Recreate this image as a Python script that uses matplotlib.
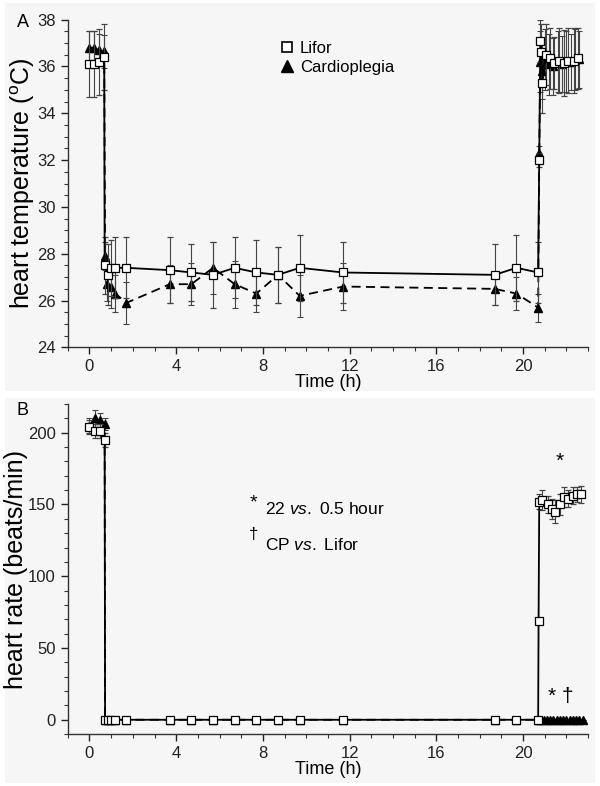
import matplotlib
matplotlib.use("Agg")
import matplotlib.pyplot as plt
from matplotlib.patches import Rectangle
from matplotlib.ticker import MultipleLocator

plt.rcParams['font.family'] = ['Liberation Sans', 'DejaVu Sans']
plt.rcParams['mathtext.fontset'] = 'custom'
plt.rcParams['mathtext.rm'] = 'Liberation Sans'
plt.rcParams['mathtext.it'] = 'Liberation Sans:italic'

# ---- panel A: heart temperature (C) ----
lifor_t_a = [0.0, 0.2, 0.45, 0.68, 0.7, 0.85, 1.0, 1.2, 1.7, 3.7, 4.7, 5.7, 6.7, 7.7,
             8.7, 9.7, 11.7, 18.7, 19.7, 20.7, 20.75, 20.8, 20.85, 20.9, 21.05, 21.25,
             21.45, 21.65, 21.9, 22.1, 22.35, 22.55]
lifor_a = [36.1, 36.1, 36.2, 36.4, 27.5, 27.1, 27.4, 27.4, 27.4, 27.3, 27.2, 27.1, 27.4, 27.2,
           27.1, 27.4, 27.2, 27.1, 27.4, 27.2, 32.0, 37.1, 36.6, 35.3, 36.5, 36.35,
           36.15, 36.25, 36.15, 36.25, 36.25, 36.35]
lifor_err_a = [1.4, 1.4, 1.4, 1.4, 1.2, 1.3, 1.2, 1.3, 1.3, 1.4, 1.2, 1.4, 1.3, 1.4,
               1.2, 1.4, 1.3, 1.3, 1.4, 1.3, 0.3, 0.9, 1.2, 1.3, 1.3, 1.3,
               1.1, 1.4, 1.4, 1.4, 1.4, 1.3]

cardio_t_a = [0.0, 0.2, 0.45, 0.68, 0.72, 0.8, 1.0, 1.2, 1.7, 3.7, 4.7, 5.7, 6.7, 7.7,
              8.7, 9.7, 11.7, 18.7, 19.7, 20.7, 20.75, 20.8, 20.9, 21.0, 21.2, 21.4,
              21.6, 21.8, 22.0, 22.2, 22.4, 22.6]
cardio_a = [36.8, 36.8, 36.7, 36.65, 27.9, 26.7, 26.6, 26.3, 25.9, 26.7, 26.7, 27.4, 26.7, 26.3,
            27.1, 26.2, 26.6, 26.5, 26.3, 25.7, 32.3, 36.2, 35.8, 36.3, 36.1, 36.0,
            36.2, 36.1, 36.2, 36.2, 36.3, 36.3]
cardio_err_a = [0.7, 0.7, 0.7, 0.7, 0.6, 0.7, 0.9, 0.8, 0.9, 0.8, 0.9, 1.1, 1.0, 0.8,
                1.2, 0.9, 1.0, 0.7, 0.7, 0.6, 0.3, 1.3, 1.2, 1.3, 1.3, 1.2,
                1.3, 1.2, 1.3, 1.2, 1.3, 1.2]

# ---- panel B: heart rate (beats/min) ----
lifor_t_b = [0.0, 0.25, 0.5, 0.7, 0.72, 0.85, 1.0, 1.2, 1.7, 3.7, 4.7, 5.7, 6.7, 7.7,
             8.7, 9.7, 11.7, 18.7, 19.7, 20.7, 20.72, 20.75, 20.9, 21.15, 21.35, 21.5,
             21.7, 21.9, 22.1, 22.3, 22.5, 22.7]
lifor_b = [204, 201, 201, 195, 0, 0, 0, 0, 0, 0, 0, 0, 0, 0,
           0, 0, 0, 0, 0, 0, 69, 152, 153, 150, 147, 145,
           150, 155, 154, 156, 157, 157]
lifor_err_b = [5, 5, 5, 5, 0, 0, 0, 0, 0, 0, 0, 0, 0, 0,
               0, 0, 0, 0, 0, 0, 0, 5, 7, 6, 7, 8,
               7, 7, 6, 6, 5, 6]

cardio_t_b = [0.0, 0.25, 0.5, 0.7, 0.72, 0.85, 1.0, 1.2, 1.7, 3.7, 4.7, 5.7, 6.7, 7.7,
              8.7, 9.7, 11.7, 18.7, 19.7, 20.7, 20.8, 20.95, 21.1, 21.25, 21.4, 21.55,
              21.7, 21.85, 22.0, 22.15, 22.3, 22.45, 22.6, 22.75]
cardio_b = [205, 210, 209, 206, 0, 0, 0, 0, 0, 0, 0, 0, 0, 0,
            0, 0, 0, 0, 0, 0, 0, 0, 0, 0, 0, 0,
            0, 0, 0, 0, 0, 0, 0, 0]
cardio_err_b = [5, 6, 5, 4, 0, 0, 0, 0, 0, 0, 0, 0, 0, 0,
                0, 0, 0, 0, 0, 0, 0, 0, 0, 0, 0, 0,
                0, 0, 0, 0, 0, 0, 0, 0]

x_ticks = [0, 4, 8, 12, 16, 20]
temp_ticks = [24, 26, 28, 30, 32, 34, 36, 38]
rate_ticks = [0, 50, 100, 150, 200]

bg = '#f6f6f6'
fig = plt.figure(figsize=(6.0, 7.86), dpi=100, facecolor='white')
# light grey panel backgrounds with a white gap between them
fig.patches.append(Rectangle((0.008, 0.502), 0.984, 0.494, transform=fig.transFigure,
                             facecolor=bg, edgecolor='none', zorder=-10))
fig.patches.append(Rectangle((0.008, 0.004), 0.984, 0.49, transform=fig.transFigure,
                             facecolor=bg, edgecolor='none', zorder=-10))

axA = fig.add_axes([0.113, 0.558, 0.867, 0.417])
axB = fig.add_axes([0.113, 0.066, 0.867, 0.420])


def style(ax):
    ax.set_facecolor('none')
    for s in ['top', 'right']:
        ax.spines[s].set_visible(False)
    for s in ['left', 'bottom']:
        ax.spines[s].set_color('#333333')
        ax.spines[s].set_linewidth(1.0)
    ax.tick_params(which='major', direction='out', length=5, width=1.0,
                   labelsize=12, colors='#222222')
    ax.tick_params(which='minor', direction='out', length=3, width=0.8, colors='#333333')
    ax.set_xlim(-1, 23)
    ax.set_xticks(x_ticks)
    ax.xaxis.set_minor_locator(MultipleLocator(1))
    ax.set_xlabel('Time (h)', fontsize=13, labelpad=0)


err_kw = dict(ecolor='#444444', elinewidth=0.8, capsize=2.5, capthick=0.8)

# panel A
style(axA)
axA.errorbar(lifor_t_a, lifor_a, yerr=lifor_err_a, color='black', lw=1.3, ls='-',
             marker='s', ms=5.5, mfc='white', mec='black', mew=0.9, zorder=3,
             **err_kw)
axA.errorbar(cardio_t_a, cardio_a, yerr=cardio_err_a, color='black', lw=1.3, ls=(0, (5, 3)),
             marker='^', ms=6, mfc='black', mec='black', zorder=2,
             **err_kw)
axA.set_ylim(24, 38)
axA.set_yticks(temp_ticks)
axA.yaxis.set_minor_locator(MultipleLocator(0.5))
axA.set_ylabel('heart temperature ($^{\\rm o}$C)', fontsize=18, labelpad=0)
axA.legend([plt.Line2D([], [], ls='none', marker='s', ms=7, mfc='white', mec='black', mew=1.2),
            plt.Line2D([], [], ls='none', marker='^', ms=8, mfc='black', mec='black')],
           ['Lifor', 'Cardioplegia'], loc='upper left', bbox_to_anchor=(0.395, 0.955),
           frameon=False, fontsize=12, handlelength=0.8, handletextpad=0.4,
           labelspacing=0.25, borderaxespad=0)
fig.text(0.028, 0.966, 'A', fontsize=13)

# panel B
style(axB)
axB.errorbar(lifor_t_b, lifor_b, yerr=lifor_err_b, color='black', lw=1.3, ls='-',
             marker='s', ms=5.5, mfc='white', mec='black', mew=0.9, zorder=3,
             **err_kw)
axB.errorbar(cardio_t_b, cardio_b, yerr=cardio_err_b, color='black', lw=1.3, ls=(0, (5, 3)),
             marker='^', ms=6, mfc='black', mec='black', zorder=2,
             **err_kw)
axB.set_ylim(-10, 220)
axB.set_yticks(rate_ticks)
axB.yaxis.set_minor_locator(MultipleLocator(10))
axB.set_ylabel('heart rate (beats/min)', fontsize=18, labelpad=0)
fig.text(0.028, 0.472, 'B', fontsize=13)

axB.text(21.7, 180, '*', fontsize=15, ha='center', va='center')
axB.text(21.75, 16, '* \u2020', fontsize=15, ha='center', va='center')
axB.text(7.55, 151, '*', fontsize=14, ha='center', va='center')
axB.text(8.1, 147, '22 $\\it{vs.}$ 0.5 hour', fontsize=12.5, ha='left', va='center')
axB.text(7.55, 129, '\u2020', fontsize=12, ha='center', va='center')
axB.text(8.1, 122, 'CP $\\it{vs.}$ Lifor', fontsize=12.5, ha='left', va='center')

fig.savefig('out.png', dpi=100, facecolor=fig.get_facecolor())
